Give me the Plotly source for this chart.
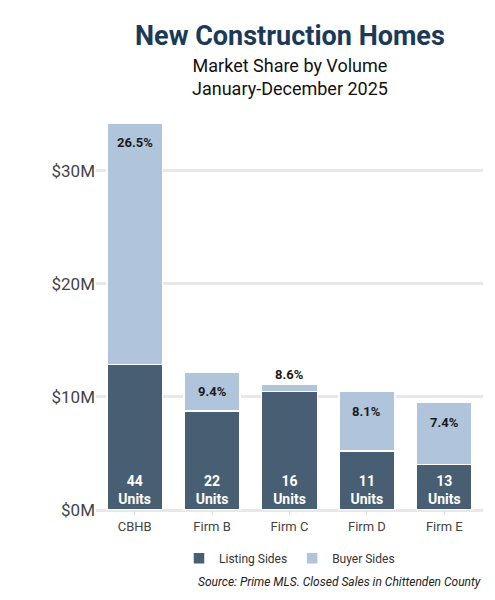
import plotly.graph_objects as go

firms = ["CBHB", "Firm B", "Firm C", "Firm D", "Firm E"]
listing = [12.87, 8.77, 10.47, 5.2, 4.0]
totals = [34.2, 12.2, 11.14, 10.47, 9.5]
buyer = [t - l for t, l in zip(totals, listing)]
shares = ["26.5%", "9.4%", "8.6%", "8.1%", "7.4%"]
units = [44, 22, 16, 11, 13]
inside = [True, True, False, True, True]

dark = "#475e73"
light = "#b0c4dc"

fig = go.Figure()
fig.add_bar(x=firms, y=listing, name="Listing Sides", marker=dict(color=dark, line=dict(color="white", width=1.5)),
            text=[f"<b>{u}<br>Units</b>" for u in units], textposition="inside", insidetextanchor="start",
            textangle=0, textfont=dict(color="white", size=14, family="Roboto"), hoverinfo="skip")
fig.add_bar(x=firms, y=buyer, name="Buyer Sides", marker=dict(color=light, line=dict(color="white", width=1.5)),
            hoverinfo="skip")
for f, t, s, ins in zip(firms, totals, shares, inside):
    fig.add_annotation(x=f, y=t, text=f"<b>{s}</b>", showarrow=False,
                       yanchor="top" if ins else "bottom", yshift=-10 if ins else 0,
                       font=dict(size=13, color="#1a1a1a", family="Roboto"))

fig.update_layout(
    barmode="stack", bargap=0.28, width=495, height=600,
    paper_bgcolor="white", plot_bgcolor="white",
    margin=dict(l=88, r=20, t=106, b=98),
    font=dict(family="Roboto", color="#333"),
    legend=dict(orientation="h", x=0.5, xanchor="center", y=-0.085, yanchor="top", font=dict(size=12, color="#333"),
                traceorder="normal"),
    xaxis=dict(tickfont=dict(size=13, color="#444"), ticks="outside", ticklen=4, tickcolor="#ddd", showline=False),
    yaxis=dict(range=[0, 35], tickvals=[0, 10, 20, 30], ticktext=["$0M", "$10M", "$20M", "$30M"],
               tickfont=dict(size=17, color="#444"), gridcolor="#e8e8e8", gridwidth=3, zeroline=True,
               zerolinecolor="#e8e8e8", zerolinewidth=3, ticksuffix="  "),
    showlegend=True,
)
fig.add_annotation(text="<b>New Construction Homes</b>", xref="paper", yref="paper", x=0.5, xanchor="center",
                   y=1.0, yshift=96, yanchor="top", showarrow=False, font=dict(size=27, color="#1c3a57"))
fig.add_annotation(text="Market Share by Volume<br>January-December 2025", xref="paper", yref="paper", x=0.5,
                   xanchor="center", y=1.0, yshift=61, yanchor="top", showarrow=False,
                   font=dict(size=18, color="#111"))
fig.add_annotation(text="<i>Source: Prime MLS. Closed Sales in Chittenden County</i>", xref="paper", yref="paper",
                   x=1.0, xanchor="right", y=-0.16, yanchor="top", showarrow=False, font=dict(size=12, color="#222"))
fig.write_html("out.html")
